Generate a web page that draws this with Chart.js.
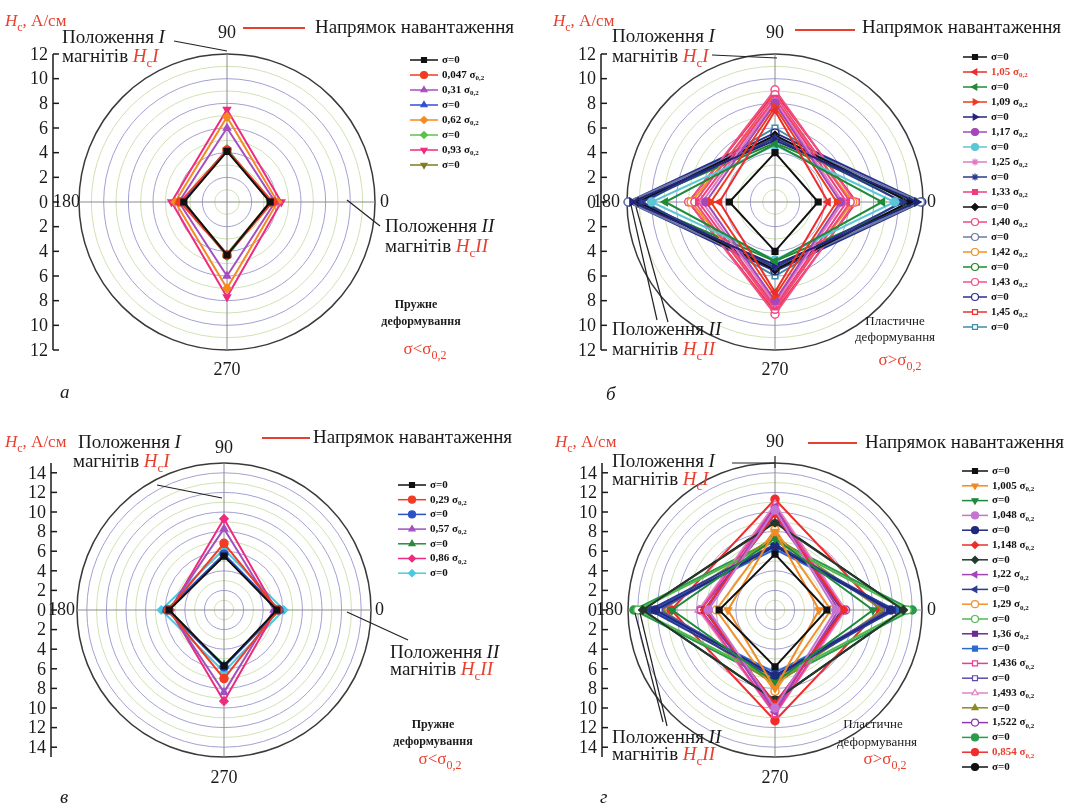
<!DOCTYPE html>
<html>
<head>
<meta charset="utf-8">
<script src="https://cdn.jsdelivr.net/npm/chart.js@4.4.1/dist/chart.umd.min.js"></script>
<style>
  html, body { margin: 0; padding: 0; background: #fff; }
  #fig { position: relative; width: 1081px; height: 805px; overflow: hidden; }
  canvas { position: absolute; }
</style>
</head>
<body>
<div id="fig">
  <canvas id="ca" width="540" height="400" style="left:0;top:0"></canvas>
  <canvas id="cb" width="541" height="400" style="left:540px;top:0"></canvas>
  <canvas id="cv" width="540" height="405" style="left:0;top:400px"></canvas>
  <canvas id="cg" width="541" height="405" style="left:540px;top:400px"></canvas>
</div>
<script>
// angles: top, right, bottom, left (radar goes clockwise from the top)
const angleLabels = ['90', '0', '270', '180'];
const ticks12 = [0, 2, 4, 6, 8, 10, 12];
const ticks14 = [0, 2, 4, 6, 8, 10, 12, 14];

// а - elastic
const aNames = ['σ=0', '0,047', '0,31', 'σ=0', '0,62', 'σ=0', '0,93', 'σ=0'];
const aValues = [
  [4.1, 3.5, 4.3, 3.5],
  [4.2, 3.7, 4.3, 3.8],
  [6.0, 3.9, 6.0, 3.9],
  [4.2, 3.6, 4.3, 3.7],
  [6.9, 4.1, 7.0, 4.2],
  [4.3, 3.6, 4.4, 3.6],
  [7.5, 4.4, 7.7, 4.5],
  [4.2, 3.5, 4.2, 3.6]
];
// б - plastic
const bNames = ['σ=0', '1,05', 'σ=0', '1,09', 'σ=0', '1,17', 'σ=0', '1,25', 'σ=0', '1,33',
  'σ=0', '1,40', 'σ=0', '1,42', 'σ=0', '1,43', 'σ=0', '1,45', 'σ=0'];
const bValues = [
  [4.0, 3.5, 4.0, 3.7],
  [7.4, 4.3, 7.3, 4.5],
  [4.7, 8.7, 4.8, 8.9],
  [7.7, 5.0, 7.6, 5.2],
  [5.0, 11.5, 5.1, 11.6],
  [8.0, 5.3, 8.0, 5.6],
  [4.6, 9.7, 4.7, 10.0],
  [8.2, 5.5, 8.2, 5.9],
  [5.2, 10.4, 5.3, 10.8],
  [8.4, 5.8, 8.5, 6.2],
  [5.4, 10.9, 5.5, 11.1],
  [8.7, 6.1, 8.7, 6.5],
  [5.3, 11.8, 5.4, 11.9],
  [8.3, 6.3, 8.3, 6.8],
  [4.8, 11.3, 4.8, 11.2],
  [9.1, 6.5, 9.1, 7.0],
  [5.6, 11.9, 5.6, 11.9],
  [8.9, 6.6, 8.9, 7.0],
  [6.0, 10.2, 6.0, 10.5]
];
// в - elastic
const vNames = ['σ=0', '0,29', 'σ=0', '0,57', 'σ=0', '0,86', 'σ=0'];
const vValues = [
  [5.5, 5.4, 5.7, 5.6],
  [6.8, 5.5, 7.0, 5.7],
  [5.7, 5.6, 5.8, 5.8],
  [8.3, 5.1, 8.4, 5.6],
  [5.5, 5.7, 5.6, 5.9],
  [9.3, 5.3, 9.3, 5.5],
  [6.2, 6.1, 6.3, 6.4]
];
// г - plastic
const gNames = ['σ=0', '1,005', 'σ=0', '1,048', 'σ=0', '1,148', 'σ=0', '1,22', 'σ=0', '1,29', 'σ=0',
  '1,36', 'σ=0', '1,436', 'σ=0', '1,493', 'σ=0', '1,522', 'σ=0', '0,854', 'σ=0'];
const gValues = [
  [5.7, 5.3, 5.8, 5.7],
  [8.0, 4.5, 8.0, 4.8],
  [7.3, 10.0, 7.4, 10.5],
  [10.2, 6.2, 10.0, 6.8],
  [6.5, 11.8, 6.7, 12.2],
  [9.8, 7.0, 9.6, 7.2],
  [8.9, 13.1, 9.2, 13.5],
  [10.5, 6.5, 10.4, 7.0],
  [6.7, 12.1, 6.9, 12.8],
  [8.2, 5.7, 8.3, 6.0],
  [7.0, 13.5, 7.1, 14.0],
  [10.0, 6.8, 10.0, 7.2],
  [6.2, 12.3, 6.4, 12.6],
  [10.5, 7.0, 10.6, 7.6],
  [6.6, 11.5, 6.7, 11.8],
  [10.8, 7.2, 10.7, 7.8],
  [7.5, 11.0, 7.6, 11.5],
  [9.5, 7.2, 9.5, 7.6],
  [7.2, 14.0, 7.3, 14.4],
  [11.3, 10.7, 11.3, 10.6],
  [9.0, 13.1, 9.2, 13.5]
];

// styles (colour, [pointStyle, rotation, filled])
const aColors = ['#111111', '#f03c24', '#a64ec0', '#3050d0', '#f58a1f', '#5cc04c', '#ee2b7e', '#7d7d1e'];
const aMarkers = [['rect', 0, 1], ['circle', 0, 1], ['triangle', 0, 1], ['triangle', 0, 1],
  ['rectRot', 0, 1], ['rectRot', 0, 1], ['triangle', 180, 1], ['triangle', 180, 1]];
const bColors = ['#111111', '#ee2c2c', '#1f8a3a', '#ef3a1c', '#23247a', '#a547b9', '#5cc6d6', '#de7cc2',
  '#2c3a8c', '#ef3d82', '#111111', '#ef4a7c', '#6a7aa6', '#f0901e', '#208a2c', '#f0508a', '#2a2f8c',
  '#ee3030', '#3d8ea6'];
const bMarkers = [['rect', 0, 1], ['triangle', -90, 1], ['triangle', -90, 1], ['triangle', 90, 1],
  ['triangle', 90, 1], ['circle', 0, 1], ['circle', 0, 1], ['star', 0, 1], ['star', 0, 1], ['rect', 0, 1],
  ['rectRot', 0, 1], ['circle', 0, 0], ['circle', 0, 0], ['circle', 0, 0], ['circle', 0, 0],
  ['circle', 0, 0], ['circle', 0, 0], ['rect', 0, 0], ['rect', 0, 0]];
const vColors = ['#111111', '#f03c24', '#2a52c8', '#a050c0', '#2a8a3a', '#ee2b7e', '#4cc8e0'];
const vMarkers = [['rect', 0, 1], ['circle', 0, 1], ['circle', 0, 1], ['triangle', 0, 1],
  ['triangle', 0, 1], ['rectRot', 0, 1], ['rectRot', 0, 1]];
const gColors = ['#111111', '#f08a22', '#1e8a3c', '#c474d2', '#1f2a7e', '#ee2c2c', '#24392c', '#a444b6',
  '#2c3a92', '#f0922e', '#52b84c', '#6a2c92', '#2c6ad2', '#ee3c92', '#5a4cb2', '#e084c4', '#8a8a22',
  '#8c3caa', '#2a9a4c', '#f02c2c', '#111111'];
const gMarkers = [['rect', 0, 1], ['triangle', 180, 1], ['triangle', 180, 1], ['circle', 0, 1],
  ['circle', 0, 1], ['rectRot', 0, 1], ['rectRot', 0, 1], ['triangle', -90, 1], ['triangle', -90, 1],
  ['circle', 0, 0], ['circle', 0, 0], ['rect', 0, 1], ['rect', 0, 1], ['rect', 0, 0], ['rect', 0, 0],
  ['triangle', 0, 0], ['triangle', 0, 1], ['circle', 0, 0], ['circle', 0, 1], ['circle', 0, 1], ['circle', 0, 1]];

const RED = '#e8402f';
const INK = '#1a1a1a';
const SERIF = '"Liberation Serif", "DejaVu Serif", serif';

// text pieces
const HC = [{t: 'H', i: 1, c: RED}, {t: 'c', s: 1, c: RED}];
const unitTxt = [...HC, {t: ', А/см', c: RED}];
const pos1 = [{t: 'Положення '}, {t: 'I', i: 1}];
const mag1 = [{t: 'магнітів '}, ...HC, {t: 'I', i: 1, c: RED}];
const pos2 = [{t: 'Положення '}, {t: 'II', i: 1}];
const mag2 = [{t: 'магнітів '}, ...HC, {t: 'II', i: 1, c: RED}];
const dirTxt = [{t: 'Напрямок навантаження'}];
const sigLess = [{t: 'σ<σ', c: RED}, {t: '0,2', s: 1, c: RED}];
const sigMore = [{t: 'σ>σ', c: RED}, {t: '0,2', s: 1, c: RED}];

function txt(ctx, x, y, parts, size, align, color, bold) {
  const items = parts.map(p => {
    const sz = p.s ? Math.round(size * 0.68) : size;
    const font = (p.i ? 'italic ' : '') + (bold ? 'bold ' : '') + sz + 'px ' + SERIF;
    ctx.font = font;
    return {p, font, w: ctx.measureText(p.t).width};
  });
  const total = items.reduce((a, b) => a + b.w, 0);
  let xx = align === 'center' ? x - total / 2 : align === 'right' ? x - total : x;
  ctx.textAlign = 'left';
  ctx.textBaseline = 'middle';
  items.forEach(it => {
    ctx.font = it.font;
    ctx.fillStyle = it.p.c || color || INK;
    ctx.fillText(it.p.t, xx, y + (it.p.s ? size * 0.32 : 0));
    xx += it.w;
  });
}

function seg(ctx, x1, y1, x2, y2) {
  ctx.beginPath();
  ctx.moveTo(x1, y1);
  ctx.lineTo(x2, y2);
  ctx.stroke();
}

function drawDeco(chart, P) {
  const s = chart.scales.r;
  const ctx = chart.ctx;
  const cy = s.yCenter;
  ctx.save();

  // value axis on the left, mirrored around zero
  const ext = s.getDistanceFromCenterForValue(P.max);
  ctx.strokeStyle = INK;
  ctx.lineWidth = 1.5;
  seg(ctx, P.axisX, cy - ext, P.axisX, cy + ext);
  P.ticks.forEach(v => {
    const d = s.getDistanceFromCenterForValue(v);
    (v === 0 ? [0] : [-d, d]).forEach(off => {
      seg(ctx, P.axisX, cy + off, P.axisX + 6, cy + off);
      txt(ctx, P.axisX - 5, cy + off + 1, [{t: String(v)}], 18, 'right');
    });
  });

  // angle labels
  angleLabels.forEach((lab, i) => {
    const p = s.getPointPosition(i, s.drawingArea + P.lab[i]);
    txt(ctx, p.x, p.y, [{t: lab}], 18, i === 1 ? 'left' : i === 3 ? 'right' : 'center');
  });

  // legend
  const L = P.leg;
  chart.data.datasets.forEach((d, i) => {
    const y = L.y0 + i * L.dy;
    ctx.strokeStyle = d.borderColor;
    ctx.lineWidth = 1.5;
    seg(ctx, L.x1, y, L.x2, y);
    ctx.fillStyle = d.pointBackgroundColor;
    ctx.strokeStyle = d.pointBorderColor;
    ctx.lineWidth = 1.2;
    Chart.helpers.drawPoint(ctx, {pointStyle: d.pointStyle, rotation: d.pointRotation, radius: 3.5, borderWidth: 1.2},
      (L.x1 + L.x2) / 2, y);
    const col = P.redRows.includes(i) ? RED : '#111';
    const parts = d.label === 'σ=0' ? [{t: 'σ=0'}] : [{t: d.label + ' σ'}, {t: '0,2', s: 1}];
    txt(ctx, L.tx, y, parts, 11, 'left', col, true);
  });

  // leader lines and load direction
  ctx.strokeStyle = '#222';
  ctx.lineWidth = 1.2;
  P.leads.forEach(l => seg(ctx, l[0], l[1], l[2], l[3]));
  ctx.strokeStyle = RED;
  ctx.lineWidth = 2;
  seg(ctx, P.arrow[0], P.arrow[2], P.arrow[1], P.arrow[2]);

  // annotations
  P.texts.forEach(t => txt(ctx, t[0], t[1], t[2], t[3], t[4] || 'left', t[5], t[6]));
  ctx.font = 'italic 19px ' + SERIF;
  ctx.fillStyle = INK;
  ctx.textAlign = 'left';
  ctx.textBaseline = 'middle';
  ctx.fillText(P.letter[0], P.letter[1], P.letter[2]);
  ctx.restore();
}

function makeChart(P) {
  const datasets = P.values.map((vals, i) => {
    const m = P.markers[i];
    const col = P.colors[i];
    return {
      label: P.names[i],
      data: vals,
      borderColor: col,
      backgroundColor: col,
      pointBackgroundColor: m[2] ? col : '#ffffff',
      pointBorderColor: col,
      pointStyle: m[0],
      pointRotation: m[1],
      pointRadius: 4,
      pointBorderWidth: 1.5,
      borderWidth: 2,
      fill: false,
      tension: 0
    };
  });
  new Chart(document.getElementById(P.id), {
    type: 'radar',
    data: {labels: angleLabels, datasets: datasets},
    options: {
      responsive: false,
      animation: false,
      layout: {padding: {left: P.cx - P.r, top: P.cy - P.r, right: P.W - P.cx - P.r, bottom: P.H - P.cy - P.r}},
      plugins: {legend: {display: false}, tooltip: {enabled: false}},
      scales: {
        r: {
          min: 0,
          max: P.max,
          ticks: {display: false, stepSize: 1},
          pointLabels: {display: false},
          grid: {
            circular: true,
            color: c => c.tick.value === P.max ? '#3a3a3a' : (c.tick.value % 2 ? '#cfe2b4' : '#a3a0d2'),
            lineWidth: c => c.tick.value === P.max ? 1.5 : 1
          },
          angleLines: {color: '#8c8c8c', lineWidth: 1}
        }
      }
    },
    plugins: [{id: 'deco', afterDraw: c => drawDeco(c, P)}]
  });
}

makeChart({
  id: 'ca', W: 540, H: 400, cx: 227, cy: 202, r: 148, max: 12, ticks: ticks12, axisX: 53,
  lab: [21, 5, 20, -1],
  leg: {x1: 410, x2: 438, tx: 442, y0: 60, dy: 15},
  names: aNames, values: aValues, colors: aColors, markers: aMarkers, redRows: [],
  letter: ['а', 60, 393],
  leads: [[174, 41, 227, 51], [347, 200, 380, 226]],
  arrow: [243, 305, 28],
  texts: [
    [5, 22, unitTxt, 17],
    [62, 38, pos1, 19], [62, 57, mag1, 19],
    [315, 28, dirTxt, 19],
    [385, 227, pos2, 19], [385, 247, mag2, 19],
    [416, 305, [{t: 'Пружне'}], 12, 'center', null, true],
    [421, 322, [{t: 'деформування'}], 12, 'center', null, true],
    [425, 350, sigLess, 17, 'center']
  ]
});

makeChart({
  id: 'cb', W: 541, H: 400, cx: 235, cy: 202, r: 148, max: 12, ticks: ticks12, axisX: 61,
  lab: [21, 4, 20, 7],
  leg: {x1: 423, x2: 447, tx: 451, y0: 57, dy: 15},
  names: bNames, values: bValues, colors: bColors, markers: bMarkers, redRows: [1],
  letter: ['б', 66, 395],
  leads: [[172, 55, 237, 58], [91, 205, 117, 320], [96, 207, 128, 322]],
  arrow: [255, 315, 30],
  texts: [
    [13, 22, unitTxt, 17],
    [72, 37, pos1, 19], [72, 57, mag1, 19],
    [322, 28, dirTxt, 19],
    [72, 330, pos2, 19], [72, 350, mag2, 19],
    [355, 322, [{t: 'Пластичне'}], 13, 'center'],
    [355, 338, [{t: 'деформування'}], 13, 'center'],
    [360, 361, sigMore, 17, 'center']
  ]
});

makeChart({
  id: 'cv', W: 540, H: 405, cx: 224, cy: 210, r: 147, max: 15, ticks: ticks14, axisX: 51,
  lab: [15, 4, 21, 2],
  leg: {x1: 398, x2: 426, tx: 430, y0: 85, dy: 14.7},
  names: vNames, values: vValues, colors: vColors, markers: vMarkers, redRows: [],
  letter: ['в', 60, 398],
  leads: [[157, 85, 222, 98], [347, 212, 408, 240]],
  arrow: [262, 310, 38],
  texts: [
    [5, 43, unitTxt, 17],
    [78, 43, pos1, 19], [73, 62, mag1, 19],
    [313, 38, dirTxt, 19],
    [390, 253, pos2, 19], [390, 270, mag2, 19],
    [433, 325, [{t: 'Пружне'}], 12, 'center', null, true],
    [433, 342, [{t: 'деформування'}], 12, 'center', null, true],
    [440, 360, sigLess, 17, 'center']
  ]
});

makeChart({
  id: 'cg', W: 541, H: 405, cx: 235, cy: 210, r: 147, max: 15, ticks: ticks14, axisX: 62,
  lab: [21, 5, 21, 5],
  leg: {x1: 422, x2: 448, tx: 452, y0: 71, dy: 14.8},
  names: gNames, values: gValues, colors: gColors, markers: gMarkers, redRows: [19],
  letter: ['г', 60, 398],
  leads: [[192, 63, 235, 63], [235, 56, 235, 68], [95, 213, 123, 322], [100, 213, 127, 326]],
  arrow: [268, 317, 43],
  texts: [
    [15, 43, unitTxt, 17],
    [72, 62, pos1, 19], [72, 80, mag1, 19],
    [325, 43, dirTxt, 19],
    [72, 338, pos2, 19], [72, 355, mag2, 19],
    [333, 325, [{t: 'Пластичне'}], 13, 'center'],
    [337, 343, [{t: 'деформування'}], 13, 'center'],
    [345, 360, sigMore, 17, 'center']
  ]
});
</script>
</body>
</html>
